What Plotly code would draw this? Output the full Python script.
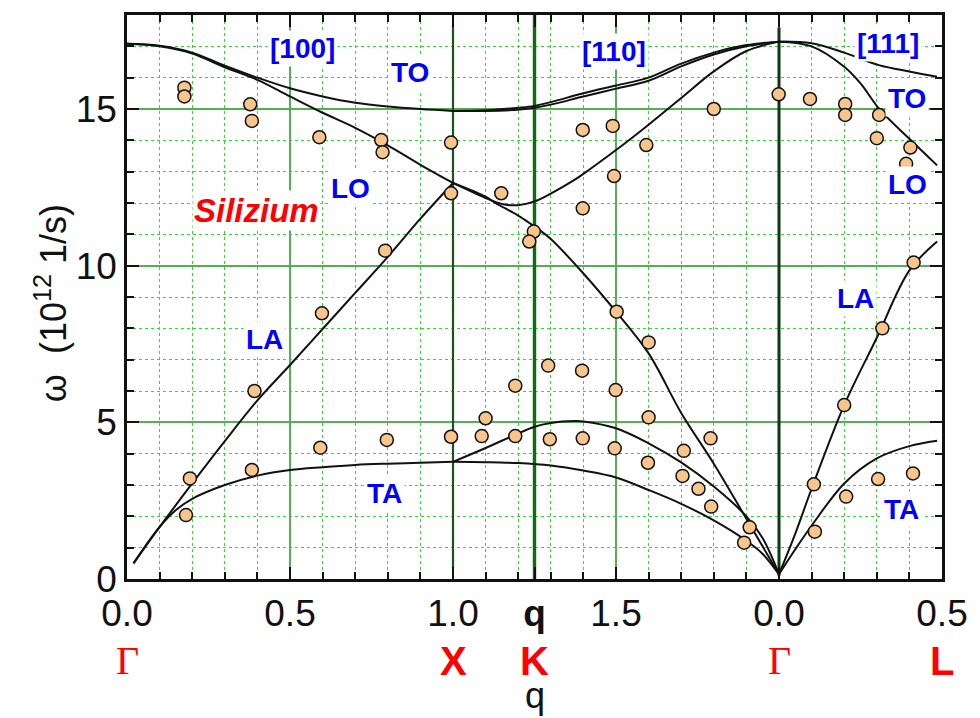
import plotly.graph_objects as go

# ---- phonon dispersion of silicon, wave vector along [100], [110], [111] ----
# q axis is a continuous path coordinate: Γ(0) -> X(1) -> K(1.25) -> Γ(2) -> L(2.5)

# [100] branches (Γ -> X)
to_100_q = [0.0, 0.1, 0.2, 0.3, 0.4, 0.5, 0.6, 0.7, 0.8, 0.9, 1.0]
to_100_w = [17.08, 17.02, 16.8, 16.38, 16.0, 15.66, 15.40, 15.2, 15.08, 15.0, 14.94]
lo_100_q = [0.0, 0.1, 0.2, 0.3, 0.4, 0.5, 0.6, 0.7, 0.8, 0.9, 1.0]
lo_100_w = [17.08, 17.0, 16.77, 16.33, 15.93, 15.4, 14.88, 14.4, 13.84, 13.22, 12.64]
la_100_q = [0.02, 0.1, 0.2, 0.3, 0.4, 0.5, 0.6, 0.7, 0.8, 0.9, 1.0]
la_100_w = [0.5, 1.66, 3.05, 4.4, 5.7, 6.83, 7.98, 9.13, 10.28, 11.5, 12.64]
ta_100_q = [0.02, 0.1, 0.15, 0.2, 0.3, 0.4, 0.5, 0.6, 0.7, 0.8, 0.9, 1.0]
ta_100_w = [0.5, 1.66, 2.2, 2.56, 3.0, 3.3, 3.48, 3.57, 3.64, 3.68, 3.71, 3.74]

# [110] branches (X -> K -> Γ)
to1_110_q = [1.0, 1.1, 1.2, 1.25, 1.3, 1.4, 1.5, 1.6, 1.7, 1.8, 1.9, 2.0]
to1_110_w = [14.94, 14.96, 15.04, 15.1, 15.22, 15.5, 15.75, 16.0, 16.45, 16.8, 17.04, 17.15]
to2_110_q = [1.0, 1.1, 1.2, 1.25, 1.3, 1.4, 1.5, 1.6, 1.7, 1.8, 1.9, 2.0]
to2_110_w = [14.94, 14.94, 14.98, 15.04, 15.14, 15.4, 15.65, 15.9, 16.36, 16.74, 17.0, 17.15]
lo_110_q = [1.0, 1.1, 1.15, 1.2, 1.25, 1.3, 1.37, 1.4, 1.5, 1.6, 1.7, 1.8, 1.9, 2.0]
lo_110_w = [12.64, 12.16, 11.97, 11.93, 12.05, 12.3, 12.72, 12.93, 13.69, 14.5, 15.35, 16.2, 16.85, 17.15]
la_110_q = [1.0, 1.1, 1.13, 1.2, 1.25, 1.3, 1.4, 1.5, 1.6, 1.7, 1.8, 1.9, 2.0]
la_110_w = [12.64, 12.2, 12.0, 11.6, 11.25, 10.85, 9.75, 8.53, 7.2, 5.3, 3.68, 1.92, 0.15]
ta2_110_q = [1.0, 1.1, 1.19, 1.25, 1.3, 1.373, 1.4, 1.5, 1.6, 1.7, 1.8, 1.9, 1.95, 2.0]
ta2_110_w = [3.74, 4.18, 4.6, 4.86, 4.98, 5.04, 5.03, 4.81, 4.33, 3.72, 2.95, 2.0, 1.3, 0.15]
ta1_110_q = [1.0, 1.1, 1.2, 1.3, 1.4, 1.5, 1.6, 1.7, 1.8, 1.9, 1.95, 2.0]
ta1_110_w = [3.74, 3.73, 3.70, 3.62, 3.46, 3.24, 2.84, 2.4, 1.87, 1.22, 0.8, 0.15]

# [111] branches (Γ -> L)
to_111_q = [2.0, 2.1, 2.2, 2.306, 2.403, 2.485]
to_111_w = [17.15, 17.1, 16.8, 16.4, 16.19, 16.03]
lo_111_q = [2.0, 2.1, 2.2, 2.25, 2.31, 2.4, 2.485]
lo_111_w = [17.15, 17.0, 16.35, 15.82, 14.97, 14.05, 13.2]
la_111_q = [2.0, 2.05, 2.1, 2.2, 2.3, 2.4, 2.485]
la_111_w = [0.15, 1.45, 2.88, 5.55, 7.7, 9.85, 10.77]
ta_111_q = [2.0, 2.05, 2.1, 2.2, 2.3, 2.4, 2.485]
ta_111_w = [0.15, 0.95, 1.7, 3.05, 3.85, 4.24, 4.41]

# measured phonon frequencies (neutron scattering)
meas_q = [0.176, 0.176, 0.378, 0.383, 0.59, 0.78, 0.784, 0.994, 0.994,
          0.792, 0.598, 0.391, 0.193, 0.181, 0.383, 0.593, 0.797, 0.994,
          1.148, 1.398, 1.49, 1.593, 1.494, 1.8, 1.999,
          1.398, 1.248, 1.234, 1.502, 1.6, 1.292, 1.396, 1.191, 1.499,
          1.1, 1.088, 1.191, 1.297, 1.398, 1.496, 1.6, 1.598, 1.708, 1.704,
          1.753, 1.792, 1.79, 1.91, 1.893,
          2.095, 2.203, 2.203, 2.307, 2.3, 2.403, 2.39,
          2.413, 2.317, 2.2, 2.107, 2.11, 2.206, 2.304, 2.411]
meas_w = [15.68, 15.4, 15.15, 14.62, 14.1, 14.01, 13.62, 13.93, 12.31,
          10.48, 8.48, 6.0, 3.21, 2.04, 3.48, 4.19, 4.44, 4.54,
          12.31, 14.33, 14.46, 13.85, 12.86, 15.0, 15.47,
          11.83, 11.09, 10.77, 8.53, 7.55, 6.81, 6.65, 6.17, 6.03,
          5.13, 4.56, 4.56, 4.46, 4.49, 4.17, 5.16, 3.71, 4.09, 3.29,
          2.88, 2.31, 4.49, 1.65, 1.16,
          15.32, 15.16, 14.81, 14.81, 14.07, 13.77, 13.25,
          10.1, 8.0, 5.55, 3.02, 1.51, 2.63, 3.19, 3.37]

# high-symmetry points on the path
sym_q = [0.0, 1.0, 1.25, 2.0, 2.5]
sym_names = ["Γ", "X", "K", "Γ", "L"]

# axis tick labels
x_tickvals = [0.0, 0.5, 1.0, 1.25, 1.5, 2.0, 2.5]
x_ticktext = ["0.0", "0.5", "1.0", "<b>q</b>", "1.5", "0.0", "0.5"]
y_tickvals = [0, 5, 10, 15]

SANS = "Liberation Sans, Arial, sans-serif"
SERIF = "Liberation Serif, Times New Roman, serif"

fig = go.Figure()

# vertical marker lines at X, K and Γ
vlines = [(sym_q[1], 0.35, 17.7, "#1b531b", 2.2),
          (sym_q[2], -0.2, 18.0, "#0c6e0c", 3.4),
          (sym_q[3], 0.1, 17.6, "#0b3b0b", 3.0)]
for q, y0, y1, col, w in vlines:
    fig.add_trace(go.Scatter(x=[q, q], y=[y0, y1], mode="lines",
                             line=dict(color=col, width=w), hoverinfo="skip"))

branches = [
    (to_100_q, to_100_w), (lo_100_q, lo_100_w), (la_100_q, la_100_w), (ta_100_q, ta_100_w),
    (to1_110_q, to1_110_w), (to2_110_q, to2_110_w), (lo_110_q, lo_110_w),
    (la_110_q, la_110_w), (ta2_110_q, ta2_110_w), (ta1_110_q, ta1_110_w),
    (to_111_q, to_111_w), (lo_111_q, lo_111_w), (la_111_q, la_111_w), (ta_111_q, ta_111_w),
]
for q, w in branches:
    fig.add_trace(go.Scatter(x=q, y=w, mode="lines", line_shape="spline",
                             line=dict(color="#111111", width=2), hoverinfo="skip"))

fig.add_trace(go.Scatter(
    x=meas_q, y=meas_w, mode="markers",
    marker=dict(size=13, color="#f8c68c", line=dict(color="#111111", width=1.5)),
))

axis_common = dict(
    showline=True, linecolor="#111111", linewidth=2.5, mirror="allticks",
    ticks="inside", ticklen=12, tickwidth=2, tickcolor="#111111",
    showgrid=True, gridcolor="#55b055", gridwidth=1.5, zeroline=False,
    tickfont=dict(family=SANS, size=37, color="#111111"),
)
minor_common = dict(ticks="inside", ticklen=7, tickwidth=1.5, tickcolor="#111111",
                    showgrid=True, gridcolor="#22e622", griddash="dot", gridwidth=1.2)

fig.update_xaxes(range=[0, 2.5], tickmode="array", tickvals=x_tickvals, ticktext=x_ticktext,
                 minor=dict(dtick=0.1, tick0=0, **minor_common), **axis_common)
fig.update_yaxes(range=[0, 18], tickmode="array", tickvals=y_tickvals,
                 minor=dict(dtick=1, tick0=0, **minor_common), **axis_common)

annotations = []

# blue branch / direction labels
blue_labels = [("[100]", 0.539, 16.92), ("TO", 0.867, 16.18), ("[110]", 1.494, 16.82),
               ("[111]", 2.333, 17.1), ("TO", 2.394, 15.35), ("LO", 2.394, 12.58),
               ("LO", 0.685, 12.45), ("LA", 0.421, 7.63), ("TA", 0.791, 2.74),
               ("LA", 2.236, 8.94), ("TA", 2.376, 2.23)]
for txt, x, y in blue_labels:
    annotations.append(dict(x=x, y=y, xref="x", yref="y", text=f"<b>{txt}</b>",
                            xanchor="center", yanchor="middle",
                            showarrow=False, bgcolor="white", borderpad=2,
                            font=dict(family=SANS, size=28, color="#0000ff")))

annotations.append(dict(x=0.397, y=11.75, xref="x", yref="y", text="<b><i>Silizium</i></b>",
                        xanchor="center", yanchor="middle",
                        showarrow=False, bgcolor="white", borderpad=1,
                        font=dict(family=SANS, size=33, color="#ff0000")))

# red symmetry point names below the axis
for q, name in zip(sym_q, sym_names):
    fam = SERIF if name == "Γ" else SANS
    txt = name if name == "Γ" else f"<b>{name}</b>"
    annotations.append(dict(x=q, y=-0.145, xref="x", yref="paper", text=txt,
                            xanchor="center", yanchor="middle",
                            showarrow=False, font=dict(family=fam, size=40, color="#ff0000")))

# axis titles
annotations.append(dict(x=sym_q[2], y=-0.206, xref="x", yref="paper", text="q",
                        xanchor="center", yanchor="middle",
                        showarrow=False, font=dict(family=SANS, size=36, color="#111111")))
annotations.append(dict(x=-0.0933, y=0.489, xref="paper", yref="paper", textangle=-90,
                        xanchor="center", yanchor="middle",
                        text="ω\u00a0\u00a0(10<sup>12</sup> 1/s)", showarrow=False,
                        font=dict(family=SANS, size=36, color="#111111")))

fig.update_layout(
    width=980, height=718,
    margin=dict(l=127, r=28, t=15, b=139),
    plot_bgcolor="white", paper_bgcolor="white",
    showlegend=False, annotations=annotations,
)

fig.write_html("out.html")
